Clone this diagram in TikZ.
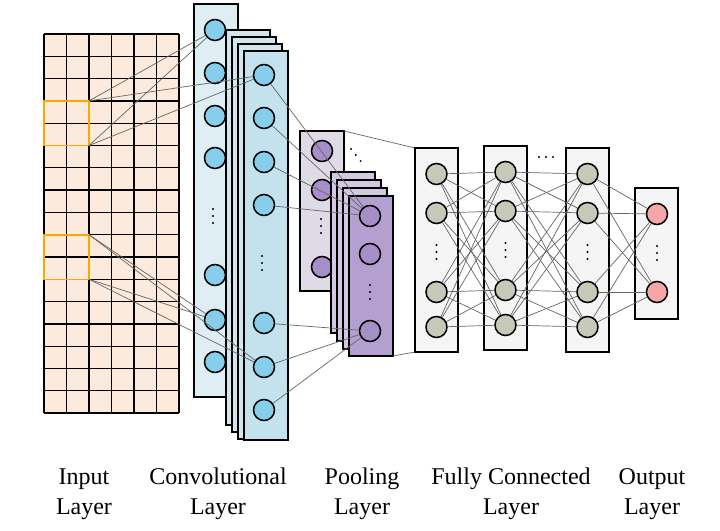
\documentclass[tikz,border=0pt]{standalone}
\usepackage{fontspec}
\setmainfont{Liberation Serif}
\definecolor{cnode}{RGB}{135,206,235}
\definecolor{pnode}{RGB}{166,142,198}
\definecolor{fnode}{RGB}{198,200,184}
\definecolor{onode}{RGB}{246,166,166}
\definecolor{grid}{RGB}{252,235,220}
\definecolor{cbg}{RGB}{222,238,242}
\definecolor{cbg2}{RGB}{210,230,238}
\definecolor{cbg3}{RGB}{196,226,238}
\definecolor{pbg}{RGB}{222,218,230}
\definecolor{pbg2}{RGB}{210,200,225}
\definecolor{pbg3}{RGB}{180,160,208}
\begin{document}
\begin{tikzpicture}[x=1pt,y=-1pt,
  lay/.style={draw=black,line width=1.6pt},
  nd/.style={circle,draw=black,line width=1.5pt,minimum size=21pt,inner sep=0pt},
  cn/.style={nd,fill=cnode},
  pn/.style={nd,fill=pnode},
  fn/.style={nd,fill=fnode},
  on/.style={nd,fill=onode},
  ln/.style={draw=black!60,line width=0.7pt},
  vd/.pic={\foreach \d in {-7,0,7} \fill (0,\d) circle (1.1pt);},
  lbl/.style={font=\fontsize{24}{30}\selectfont,align=center}]
\useasboundingbox (0,0) rectangle (720,530);
% input grid
\fill[grid] (44,34) rectangle (179,413);
\foreach \i in {0,...,6} \draw[line width=1.3pt] (44+\i*22.5,34) -- (44+\i*22.5,413);
\foreach \j in {0,...,17} \draw[line width=1.3pt] (44,34+\j*22.3) -- (179,34+\j*22.3);
\draw[orange!70!yellow,line width=1.6pt] (44,100.9) rectangle (89,145.5);
\draw[orange!70!yellow,line width=1.6pt] (44,234.7) rectangle (89,279.3);
\coordinate (a1) at (89,100.9); \coordinate (a2) at (89,145.5);
\coordinate (b1) at (89,234.7); \coordinate (b2) at (89,279.3);
% conv layer
\draw[lay,fill=cbg] (194,4) rectangle (238,397);
\foreach \y/\n in {30/1,73/2,116/3,158/4,275/5,320/6,362/7} \node[cn] (c\n) at (215,\y) {};
\pic at (213,216) {vd};
\foreach \k in {0,1,2} \draw[lay,fill=cbg2] (226+\k*6,30+\k*7) rectangle (270+\k*6,425+\k*7);
\draw[lay,fill=cbg3] (244,51) rectangle (288,440);
\foreach \y/\n in {75/1,118/2,162/3,205/4,323/5,367/6,410/7} \node[cn] (d\n) at (264,\y) {};
\pic at (262,263) {vd};
% input-conv lines
\foreach \s in {a1,a2} \foreach \t in {c1,d1} \draw[ln] (\s) -- (\t);
\foreach \s in {b1,b2} \foreach \t in {c6,d6} \draw[ln] (\s) -- (\t);
% pooling
\draw[lay,fill=pbg] (300,131) rectangle (344,291);
\foreach \y/\n in {151/1,190/2,267/3} \node[pn] (p\n) at (322,\y) {};
\pic at (321,226) {vd};
\foreach \d in {0,6,12} \fill (351+\d*0.8,149+\d) circle (1.1pt);
\foreach \k in {0,1,2} \draw[lay,fill=pbg2] (331+\k*6,172+\k*8) rectangle (375+\k*6,333+\k*8);
\draw[lay,fill=pbg3] (349,196) rectangle (393,356);
\foreach \y/\n in {216/1,254/2,331/3} \node[pn] (q\n) at (370,\y) {};
\pic at (370,292) {vd};
\foreach \n in {1,2,3,4} \draw[ln] (d\n) -- (q1);
\foreach \n in {5,6,7} \draw[ln] (d\n) -- (q3);
\draw[ln] (344,131) -- (415,148);
\draw[ln] (393,356) -- (415,352);
% fully connected
\foreach \x/\t/\L in {415/148/f,484/146/g,566/148/h} {
  \draw[lay,fill=black!4] (\x,\t) rectangle (\x+43,\t+204);
  \foreach \dy/\n in {26/1,65/2,144/3,179/4} \node[fn] (\L\n) at (\x+21.5,\t+\dy) {};
  \pic at (\x+21.5,\t+104) {vd};
}
\foreach \d in {-7,0,7} \fill (546+\d,157) circle (1.1pt);
\draw[lay,fill=black!4] (635,188) rectangle (678,319);
\node[on] (o1) at (657,214) {}; \node[on] (o2) at (657,292) {};
\pic at (657,253) {vd};
\foreach \i in {1,...,4} \foreach \j in {1,...,4} {
  \draw[ln] (f\i) -- (g\j);
  \draw[ln] (g\i) -- (h\j);
}
\foreach \i in {1,...,4} \foreach \j in {1,2} \draw[ln] (h\i) -- (o\j);
% labels
\node[lbl] at (84,494) {Input\\Layer};
\node[lbl] at (218,494) {Convolutional\\Layer};
\node[lbl] at (362,494) {Pooling\\Layer};
\node[lbl] at (511,494) {Fully Connected\\Layer};
\node[lbl] at (652,494) {Output\\Layer};
\end{tikzpicture}
\end{document}
